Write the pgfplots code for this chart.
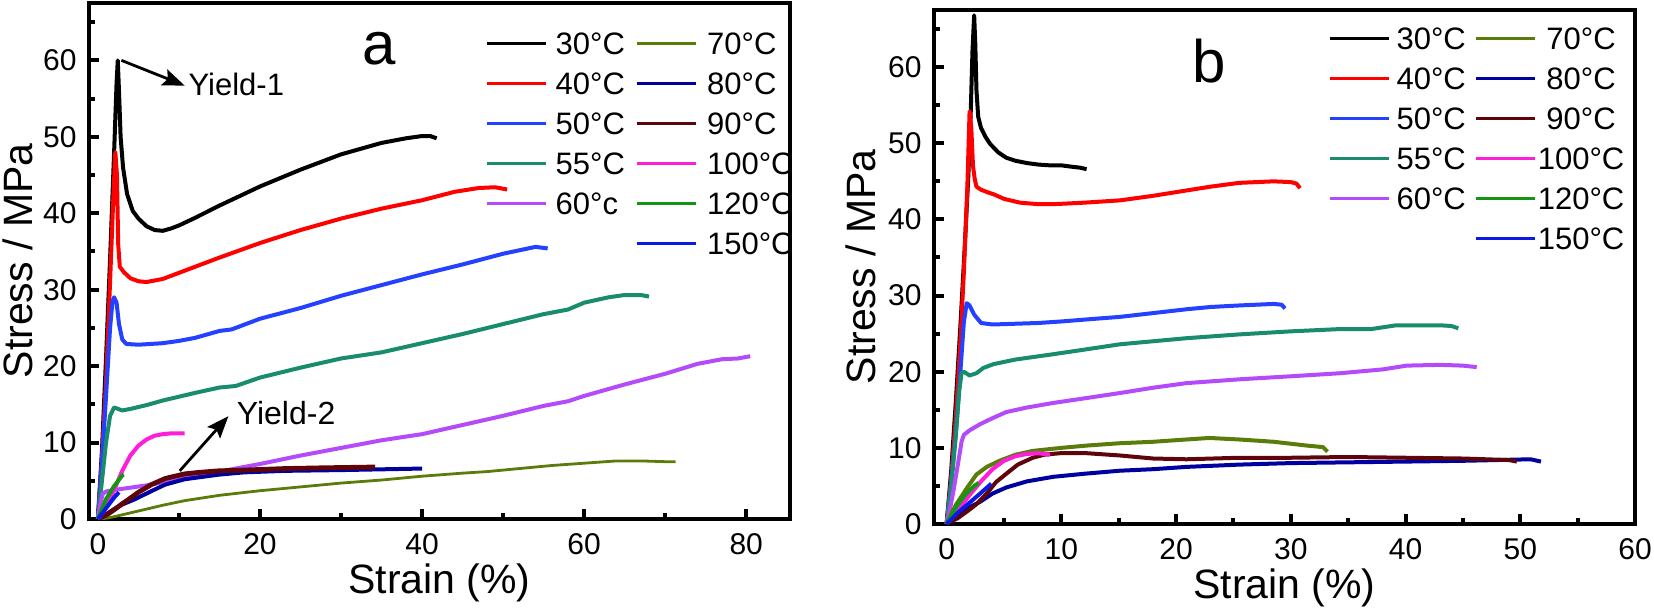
\documentclass[border=0pt]{standalone}
\usepackage{fontspec}
\setmainfont{Liberation Sans}
\usepackage{pgfplots}
\pgfplotsset{compat=1.18}
\usetikzlibrary{arrows.meta}

\definecolor{c30}{RGB}{0,0,0}
\definecolor{c40}{RGB}{255,0,0}
\definecolor{c50}{RGB}{35,65,255}
\definecolor{c55}{RGB}{25,140,110}
\definecolor{c60}{RGB}{180,75,250}
\definecolor{c70}{RGB}{90,125,10}
\definecolor{c80}{RGB}{0,0,160}
\definecolor{c90}{RGB}{95,5,10}
\definecolor{c100}{RGB}{255,30,215}
\definecolor{c120}{RGB}{20,150,20}
\definecolor{c150}{RGB}{10,25,230}

\pgfplotsset{
  panel/.style={
    scale only axis,
    width=350.5pt,
    ymin=0, ymax=67.5,
    xmin=-1.1,
    tick align=inside,
    xtick pos=bottom, ytick pos=left,
    axis line style={line width=2.2pt},
    major tick length=4.8pt, minor tick length=3pt,
    tick style={black, line width=2pt},
    ytick={0,10,20,30,40,50,60}, minor ytick={5,15,25,35,45,55,65},
    tick label style={font=\fontsize{15}{18}\selectfont},
    /pgf/number format/assume math mode=true,
    xticklabel style={anchor=base, inner sep=0pt, yshift=-17.5pt},
    yticklabel style={anchor=east, inner sep=0pt, xshift=-6pt},
    label style={font=\fontsize{20.5}{24}\selectfont},
    xlabel={Strain (\%)}, ylabel={Stress / MPa},
    x label style={at={([yshift=-37pt]axis description cs:0.5,0)}, anchor=base},
    every axis plot/.append style={line width=2pt, line join=round},
    legend image code/.code={\draw[#1, line width=1.6pt] (0pt,0pt) -- (29.5pt,0pt);},
    legend columns=2,
    legend style={draw=none, fill=none, inner sep=0pt,
      font=\fontsize{15.5}{18}\selectfont,
      nodes={inner sep=0pt, text height=11pt, text depth=0pt},
      row sep=9pt, anchor=north west},
  }
}

\begin{document}
\begin{tikzpicture}
%%%%%%%%%%%%%%%% panel a
\begin{axis}[panel, at={(44.5pt,-259.5pt)}, anchor=south west, height=258pt, xmax=85.4,
  xtick={0,20,40,60,80}, minor xtick={10,30,50,70},
  y label style={at={([xshift=-28pt]axis description cs:0,0.5)}, anchor=base},
  legend style={at={(axis description cs:0.565,0.944)}, cells={anchor=west},
    /tikz/column 1/.style={column sep=4pt},
    /tikz/column 2/.style={column sep=5pt},
    /tikz/column 3/.style={column sep=5pt}}]
\addplot[c30, forget plot] coordinates {(0,0) (0.5,9) (1,21) (1.5,34) (2,48) (2.3,57) (2.45,60) (2.6,56) (2.8,50) (3.1,46) (3.6,42.5) (4.3,40.3) (5,39.3) (6,38.3) (7,37.8) (8,37.7) (9,38) (10,38.4) (12,39.4) (15,41) (20,43.5) (25,45.7) (30,47.7) (35,49.2) (38,49.8) (40,50.1) (41,50.1) (41.8,49.8)};
\addplot[c40, forget plot] coordinates {(0,0) (0.5,8) (1,18) (1.5,31) (1.9,42) (2.15,48) (2.35,45) (2.5,36) (2.7,33) (3.2,32.3) (4,31.5) (5,31.1) (6,31) (8,31.4) (10,32.2) (12,33) (15,34.2) (20,36.1) (25,37.8) (30,39.3) (35,40.6) (40,41.7) (44,42.8) (47,43.3) (49,43.4) (50.5,43.1)};
\addplot[c50, forget plot] coordinates {(0,0) (0.5,7.5) (1,16) (1.5,25) (1.8,28.5) (2.0,29) (2.3,28.3) (2.6,25.5) (3,23.5) (3.5,22.9) (5,22.8) (8,23) (10,23.3) (12,23.7) (15,24.6) (16.5,24.8) (20,26.2) (25,27.6) (30,29.2) (35,30.6) (40,32) (45,33.3) (50,34.7) (54,35.6) (55.5,35.4)};
\addplot[c55, forget plot] coordinates {(0,0) (0.5,5) (1,10) (1.5,13.5) (2,14.6) (2.5,14.4) (3,14.2) (4,14.4) (6,14.9) (8,15.5) (10,16) (12,16.5) (15,17.2) (17,17.4) (20,18.5) (25,19.8) (30,21) (35,21.8) (40,23) (45,24.2) (50,25.5) (55,26.8) (58,27.4) (60,28.3) (63,29) (65,29.3) (67,29.3) (68,29.1)};
\addplot[c60, forget plot] coordinates {(0,0) (0.3,2) (0.6,3.3) (1,3.6) (2,3.8) (4,4.1) (6,4.4) (8,4.8) (10,5.2) (12,5.6) (15,6.2) (20,7.2) (25,8.3) (30,9.3) (35,10.3) (40,11.1) (45,12.3) (50,13.5) (55,14.8) (58,15.4) (60,16.1) (65,17.6) (70,19.0) (74,20.3) (77,20.9) (79,21.0) (80.5,21.3)};
\addplot[c70, forget plot, line width=1.4pt] coordinates {(0,0) (1,0.1) (2,0.3) (4,0.8) (6,1.3) (8,1.8) (10.7,2.4) (15,3.1) (20,3.7) (25,4.2) (30,4.7) (35,5.1) (40,5.6) (45,6.0) (48,6.2) (52,6.6) (56,7.0) (60,7.3) (64,7.6) (67,7.6) (70,7.5) (71.3,7.5)};
\addplot[c80, forget plot] coordinates {(0,0) (1,0.6) (2,1.3) (3,1.9) (4.6,2.6) (6.5,3.6) (8.3,4.5) (10.7,5.2) (14.9,5.8) (18,6.1) (23.1,6.3) (30,6.4) (35,6.5) (40,6.6)};
\addplot[c90, forget plot, line width=2.4pt] coordinates {(0,0) (1,0.5) (2,1.2) (3,2) (3.7,2.5) (5,3.5) (6.6,4.5) (8.3,5.3) (10.7,5.9) (12.5,6.1) (14.9,6.3) (18,6.4) (23.1,6.6) (28,6.7) (34.2,6.8)};
\addplot[c100, forget plot] coordinates {(0,0) (1,1.5) (2,3.8) (3,6.3) (4,8.3) (5,9.6) (6,10.4) (7,10.9) (8,11.1) (9,11.2) (10.7,11.2)};
\addplot[c120, forget plot] coordinates {(0,0) (1,2.6) (2,4.3) (3,5.7) (3.2,5.8)};
\addplot[c150, forget plot] coordinates {(0,0) (1,1.4) (2,2.8) (2.6,3.5)};
\addlegendimage{c30}\addlegendentry{30°C}
\addlegendimage{c70}\addlegendentry{70°C}
\addlegendimage{c40}\addlegendentry{40°C}
\addlegendimage{c80}\addlegendentry{80°C}
\addlegendimage{c50}\addlegendentry{50°C}
\addlegendimage{c90}\addlegendentry{90°C}
\addlegendimage{c55}\addlegendentry{55°C}
\addlegendimage{c100}\addlegendentry{100°C}
\addlegendimage{c60}\addlegendentry{60°c}
\addlegendimage{c120}\addlegendentry{120°C}
\addlegendimage{empty legend}\addlegendentry{\phantom{0}}
\addlegendimage{c150}\addlegendentry{150°C}
\draw[line width=1.4pt, -{Stealth[length=11pt, width=8.5pt, inset=2pt]}] (axis cs:2.9,60) -- (axis cs:10.7,56.7);
\node[anchor=base west, inner sep=0pt, font=\fontsize{15.5}{18}\selectfont] at (axis cs:11.15,55.4) {Yield-1};
\draw[line width=1.4pt, -{Stealth[length=11pt, width=8.5pt, inset=2pt]}] (axis cs:10.1,6.3) -- (axis cs:16.1,13.45);
\node[anchor=base west, inner sep=0pt, font=\fontsize{16}{18}\selectfont] at (axis cs:17.1,12.4) {Yield-2};
\node[anchor=base west, inner sep=0pt, font=\fontsize{30}{36}\selectfont] at (axis cs:32.6,59.4) {a};
\end{axis}
%%%%%%%%%%%%%%%% panel b
\begin{axis}[panel, at={(467pt,-262pt)}, anchor=south west, height=257pt, xmax=60,
  xtick={0,10,20,30,40,50,60}, minor xtick={5,15,25,35,45,55},
  y label style={at={([xshift=-29.5pt]axis description cs:0,0.5)}, anchor=base},
  legend style={at={(axis description cs:0.562,0.967)}, cells={anchor=center},
    /tikz/column 1/.style={column sep=3pt},
    /tikz/column 2/.style={column sep=4.4pt},
    /tikz/column 3/.style={column sep=0.5pt}}]
\addplot[c30, forget plot] coordinates {(0,0) (0.4,7) (0.8,16) (1.2,26) (1.6,37) (1.9,46) (2.1,54) (2.25,62) (2.4,66.8) (2.5,63) (2.6,57) (2.75,53.5) (3.0,52) (3.4,50.8) (3.8,49.9) (4.5,48.8) (5.2,48.1) (6,47.7) (7,47.4) (8,47.2) (9,47.1) (10,47.1) (11,46.9) (11.6,46.8) (12.2,46.6)};
\addplot[c40, forget plot] coordinates {(0,0) (0.4,6) (0.8,14) (1.2,24) (1.5,33) (1.8,44) (2.0,54.2) (2.15,52) (2.3,47) (2.45,45.3) (2.6,44.3) (3,43.9) (3.5,43.6) (4.1,43.3) (5,42.7) (6.4,42.2) (8,42) (9.3,42) (12,42.2) (15.1,42.5) (18,43.1) (20.9,43.8) (23,44.3) (25.5,44.8) (28.5,45) (30,44.9) (30.5,44.7) (30.8,44.1)};
\addplot[c50, forget plot] coordinates {(0,0) (0.4,5.5) (0.8,12) (1.2,20) (1.5,26.5) (1.75,29) (2,28.7) (2.4,27.5) (3,26.4) (4,26.2) (6,26.3) (8,26.4) (10,26.6) (12.5,26.9) (15.1,27.2) (18,27.7) (20.9,28.2) (23,28.5) (25.5,28.7) (28.5,28.9) (29.2,28.8) (29.5,28.3)};
\addplot[c55, forget plot] coordinates {(0,0) (0.4,5) (0.8,11.5) (1.1,17.5) (1.3,19.8) (1.5,20) (2.0,19.5) (2.6,19.8) (3.2,20.5) (4.1,21) (6,21.6) (9.3,22.3) (12,22.9) (15.1,23.6) (18,24) (20.9,24.4) (25.5,24.9) (30,25.3) (34.3,25.6) (37,25.6) (39.2,26.1) (43,26.1) (44,26) (44.6,25.7)};
\addplot[c60, forget plot] coordinates {(0,0) (0.3,2) (0.6,4.4) (1.0,8) (1.3,10.8) (1.5,11.7) (2,12.3) (2.9,13.1) (4,13.9) (5.2,14.7) (7,15.3) (9.3,15.9) (12,16.5) (15.1,17.2) (18,17.9) (20.9,18.5) (25.5,19) (30,19.4) (34.3,19.8) (38,20.3) (40.1,20.8) (43,20.9) (45,20.8) (46.2,20.6)};
\addplot[c70, forget plot] coordinates {(0,0) (0.4,1.3) (0.8,2.5) (1.2,3.4) (1.8,4.8) (2.6,6.5) (3.5,7.5) (4.6,8.3) (6,9.1) (7.5,9.6) (10,10) (12.2,10.3) (15,10.6) (18,10.8) (20.9,11.1) (22.9,11.3) (25.5,11.1) (28.5,10.8) (31.4,10.3) (32.8,10.1) (33.2,9.5)};
\addplot[c80, forget plot] coordinates {(0,0) (0.5,0.7) (1.2,1.5) (2,2.2) (2.9,2.9) (4,4) (5.2,4.8) (7,5.6) (9.3,6.2) (12,6.6) (15.1,7) (18,7.2) (20.9,7.5) (25.5,7.8) (30,8) (35,8.1) (40.1,8.2) (45,8.3) (50.9,8.5) (51.8,8.2)};
\addplot[c90, forget plot] coordinates {(0,0) (1,0.8) (2,1.9) (2.6,2.6) (3.5,4) (4.3,5.5) (5.2,6.6) (6.2,7.8) (7.5,8.7) (8.5,9.1) (9.9,9.3) (12.2,9.3) (15.1,9) (18,8.6) (20.9,8.5) (25.5,8.7) (30,8.7) (35,8.8) (40.1,8.7) (45,8.6) (49,8.4) (49.7,8.2)};
\addplot[c100, forget plot] coordinates {(0,0) (1,1.8) (2,3.8) (3,5.6) (4,7.2) (5,8.3) (6,8.9) (7,9.2) (8,9.3) (9,9.1)};
\addplot[c120, forget plot] coordinates {(0,0) (0.8,2.2) (1.6,3.8) (2.4,5.0) (2.8,5.4)};
\addplot[c150, forget plot] coordinates {(0,0) (1,1.5) (2,2.8) (3,4.1) (3.9,5.3)};
\addlegendimage{c30}\addlegendentry{30°C}
\addlegendimage{c70}\addlegendentry{70°C}
\addlegendimage{c40}\addlegendentry{40°C}
\addlegendimage{c80}\addlegendentry{80°C}
\addlegendimage{c50}\addlegendentry{50°C}
\addlegendimage{c90}\addlegendentry{90°C}
\addlegendimage{c55}\addlegendentry{55°C}
\addlegendimage{c100}\addlegendentry{100°C}
\addlegendimage{c60}\addlegendentry{60°C}
\addlegendimage{c120}\addlegendentry{120°C}
\addlegendimage{empty legend}\addlegendentry{\phantom{0}}
\addlegendimage{c150}\addlegendentry{150°C}
\node[anchor=base west, inner sep=0pt, font=\fontsize{30}{36}\selectfont] at (axis cs:21.4,58.0) {b};
\end{axis}
\pgfresetboundingbox
\path[use as bounding box] (0pt,0pt) rectangle (827pt,-305.5pt);
\end{tikzpicture}
\end{document}
